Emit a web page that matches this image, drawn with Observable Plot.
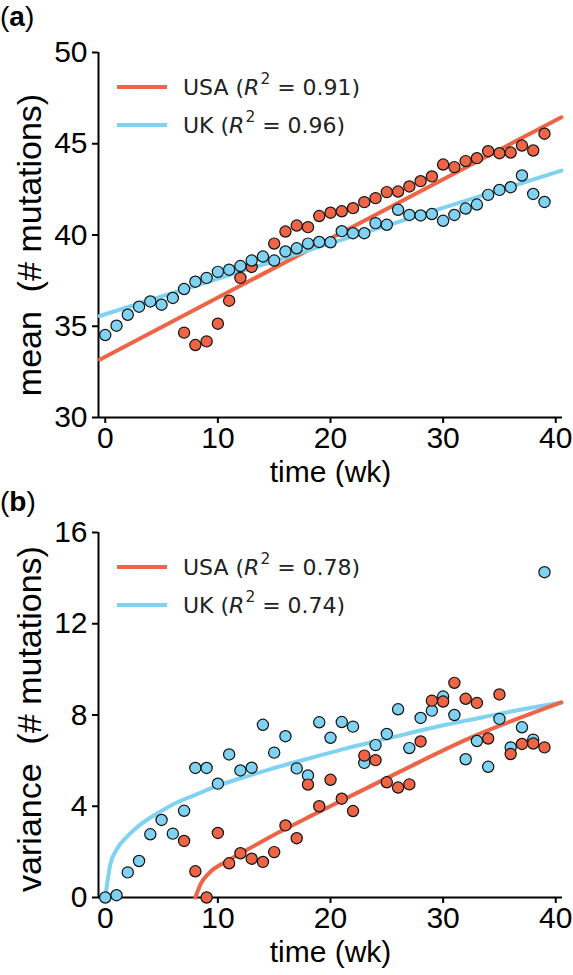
<!DOCTYPE html>
<html>
<head>
<meta charset="utf-8">
<script src="https://cdn.jsdelivr.net/npm/d3@7"></script>
<script src="https://cdn.jsdelivr.net/npm/@observablehq/plot@0.6"></script>
<style>
  body { margin: 0; background: #fff; }
  .panel { position: relative; width: 573px; }
  .tag { position: absolute; left: 0px; font: 28px "Liberation Sans", Arial, sans-serif; color: #000; line-height: 1; }
  .tag b { font-weight: bold; }
  .legend { position: absolute; left: 117px; font: 22px "DejaVu Sans", sans-serif; color: #222; }
  .row { position: absolute; left: 0; height: 38px; display: flex; align-items: center; white-space: nowrap; }
  .swatch { width: 50px; height: 4px; margin-right: 16px; }
  .row i { font-style: italic; }
  .row .sup { font-size: 70%; position: relative; top: -0.55em; margin-left: 1px; }
</style>
</head>
<body>
<div class="panel" id="panelA"><div class="tag" style="top:3px">(<b>a</b>)</div></div>
<div class="panel" id="panelB"><div class="tag" style="top:1px">(<b>b</b>)</div></div>
<script>
// Weekly samples (weeks since start)
const ukWeeks  = [0,1,2,3,4,5,6,7,8,9,10,11,12,13,14,15,16,17,18,19,20,21,22,23,24,25,26,27,28,29,30,31,32,33,34,35,36,37,38,39];
const usaWeeks = [7,8,9,10,11,12,13,15,16,17,18,19,20,21,22,23,24,25,26,27,28,29,30,31,32,33,34,35,36,37,38,39];
const usaWeeksVar = [7,8,9,10,11,12,13,14,15,16,17,18,19,20,21,22,23,24,25,26,27,28,29,30,31,32,33,34,35,36,37,38,39];

// (a) mean number of mutations
const ukMean  = [34.52,35.03,35.63,36.07,36.36,36.18,36.55,37.04,37.44,37.65,37.98,38.1,38.3,38.6,38.82,38.6,39.1,39.27,39.53,39.62,
                 39.6,40.21,40.1,40.1,40.65,40.56,41.38,41.1,41.07,41.15,40.78,41.1,41.45,41.67,42.2,42.47,42.62,43.26,42.25,41.81];
const usaMean = [34.65,33.97,34.17,35.14,36.4,37.65,38.25,39.53,40.19,40.52,40.43,41.04,41.22,41.3,41.47,41.8,42.02,42.35,42.38,42.66,
                 42.95,43.21,43.86,43.72,44.05,44.21,44.59,44.48,44.52,44.9,44.63,45.55];

// (b) variance of the number of mutations
const ukVar  = [0,0.1,1.1,1.6,2.77,3.4,2.8,3.8,5.68,5.68,4.99,6.27,5.57,5.69,7.57,6.35,7.07,5.66,5.35,7.68,
                7.0,7.69,7.49,5.9,6.68,7.17,8.25,6.55,7.87,8.19,8.81,8.0,6.06,6.86,5.73,7.83,6.58,7.46,6.92,14.26];
const usaVar = [2.48,1.15,0,2.83,1.5,1.94,1.7,1.56,1.99,3.16,2.6,4.95,4.0,5.16,4.33,3.79,6.22,6.02,5.05,4.82,4.96,6.84,
                8.63,8.59,9.41,8.71,8.53,6.97,8.9,6.29,6.73,6.75,6.58];

// Fitted trends
const fitMeanWeeks = [-0.5, 40.5];
const usaMeanFit = [33.17, 46.45];
const ukMeanFit  = [35.56, 43.53];
const ukVarFitWeeks  = [0,0.45,1,2,3,4.5,6.5,8,10,12.5,15.5,18.5,21.5,24,27,30,33,36,40.5];
const ukVarFit       = [0,1.45,2.1,2.7,3.15,3.65,4.2,4.5,4.9,5.3,5.75,6.15,6.55,6.85,7.2,7.55,7.85,8.15,8.55];
const usaVarFitWeeks = [8,8.5,9.2,11,13.1,15.5,18.4,21.4,26.3,32.2,40.5];
const usaVarFit      = [0,0.62,1.06,1.64,2.23,2.88,3.61,4.35,5.55,6.95,8.55];

// Axis ticks and legend text
const weekTicks = [0,10,20,30,40];
const meanTicks = [30,35,40,45,50];
const varTicks  = [0,4,8,12,16];
const countries = ["USA","UK"];
const colors = ["#EE6446","#7FD2F1"];
const r2Mean = {USA: "0.91", UK: "0.96"};
const r2Var  = {USA: "0.78", UK: "0.74"};

const xDomain = [-0.6, 40.6];
const meanDomain = [30, 50];
const varDomain = [0, 16];

const rows = (ws, vs, country) => ws.map((w, i) => ({week: w, value: vs[i], country}));

const font = {fontFamily: "'Liberation Sans', Arial, sans-serif", fontSize: "30px", color: "#000", background: "#fff", overflow: "visible"};

function panel({height, marginTop, marginBottom, yDomain, yTicks, yLabel, labelShift, fits, dots}) {
  return Plot.plot({
    width: 573, height,
    marginLeft: 98, marginRight: 11, marginTop, marginBottom,
    x: {domain: xDomain},
    y: {domain: yDomain},
    color: {domain: countries, range: colors},
    style: font,
    marks: [
      Plot.axisX({ticks: weekTicks, tickSize: 6, tickPadding: 3, strokeWidth: 2, label: "time (wk)",
                  labelAnchor: "center", labelOffset: 64, labelArrow: "none"}),
      Plot.axisY({ticks: yTicks, tickSize: 6, tickPadding: 5, strokeWidth: 2, label: null}),
      // y-axis title, rotated along the left edge
      Plot.text([yLabel], {frameAnchor: "left", rotate: -90, dx: -68, dy: labelShift, fontSize: 34,
                           text: d => d, textAnchor: "middle", lineAnchor: "middle"}),
      Plot.ruleX([xDomain[0]], {stroke: "#000", strokeWidth: 2}),
      Plot.ruleY([yDomain[0]], {stroke: "#000", strokeWidth: 2}),
      ...fits.map(f => Plot.line(f, {x: "week", y: "value", stroke: "country", strokeWidth: 4, curve: "monotone-x"})),
      ...dots.map(d => Plot.dot(d, {x: "week", y: "value", fill: "country", stroke: "#111", strokeWidth: 1.2, r: 5.6}))
    ]
  });
}

function legend(host, top, r2) {
  const box = document.createElement("div");
  box.className = "legend";
  box.style.top = top + "px";
  countries.forEach((c, i) => {
    const row = document.createElement("div");
    row.className = "row";
    row.style.top = (i * 38.3) + "px";
    row.innerHTML = `<div class="swatch" style="background:${colors[i]}"></div>${c}&nbsp;(<i>R</i><span class="sup">2</span>&nbsp;=&nbsp;${r2[c]})`;
    box.appendChild(row);
  });
  host.appendChild(box);
}

const A = document.getElementById("panelA");
A.prepend(panel({
  height: 487, marginTop: 52, marginBottom: 70,
  yDomain: meanDomain, yTicks: meanTicks, yLabel: "mean\u00a0\u00a0(# mutations)", labelShift: 10,
  fits: [rows(fitMeanWeeks, usaMeanFit, "USA"), rows(fitMeanWeeks, ukMeanFit, "UK")],
  dots: [rows(usaWeeks, usaMean, "USA"), rows(ukWeeks, ukMean, "UK")]
}));
legend(A, 68, r2Mean);

const B = document.getElementById("panelB");
B.prepend(panel({
  height: 488, marginTop: 45, marginBottom: 78,
  yDomain: varDomain, yTicks: varTicks, yLabel: "variance\u00a0\u00a0(# mutations)", labelShift: 4,
  fits: [rows(ukVarFitWeeks, ukVarFit, "UK"), rows(usaVarFitWeeks, usaVarFit, "USA")],
  dots: [rows(ukWeeks, ukVar, "UK"), rows(usaWeeksVar, usaVar, "USA")]
}));
legend(B, 61, r2Var);
</script>
</body>
</html>
